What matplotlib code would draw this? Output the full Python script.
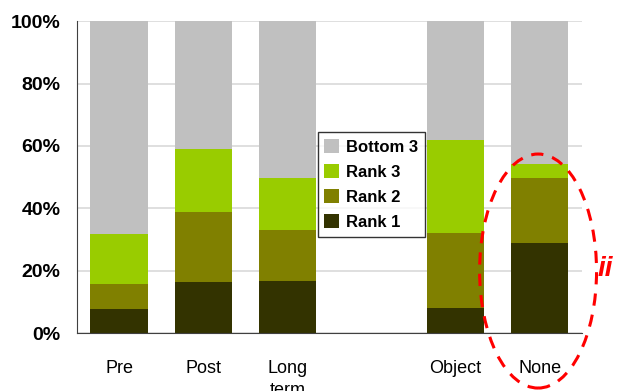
import matplotlib.pyplot as plt
from matplotlib.patches import Ellipse

plt.rcParams['font.family'] = ['Liberation Sans', 'DejaVu Sans']

categories = ["Pre", "Post", "Long\nterm", "", "Object", "None"]
rank1 = [7.8, 16.4, 16.8, 0, 8.2, 28.9]
rank2 = [8.0, 22.4, 16.3, 0, 23.9, 20.8]
rank3 = [16.0, 20.2, 16.6, 0, 29.8, 4.5]
bottom3 = [68.2, 41.0, 50.3, 0, 38.1, 45.8]

series = [("Rank 1", rank1, "#333300"),
          ("Rank 2", rank2, "#808000"),
          ("Rank 3", rank3, "#99CC00"),
          ("Bottom 3", bottom3, "#C0C0C0")]

fig = plt.figure(figsize=(6.17, 3.91), dpi=100)
ax = fig.add_axes([0.1248, 0.148, 0.8182, 0.798])

x = list(range(len(categories)))
base = [0] * len(categories)
handles = []
for name, vals, col in series:
    b = ax.bar(x, vals, width=0.68, bottom=base, color=col, label=name, zorder=2)
    handles.append(b)
    base = [p + v for p, v in zip(base, vals)]

ax.set_xlim(-0.5, 5.5)
ax.set_ylim(0, 100)
ax.set_yticks(range(0, 101, 20))
ax.set_yticklabels([f"{v}%" for v in range(0, 101, 20)], fontsize=14, fontweight="bold")
ax.set_xticks(x)
ax.set_xticklabels(categories, fontsize=13, linespacing=1.4)
ax.tick_params(axis="y", length=0, pad=12)
ax.tick_params(axis="x", length=0, pad=19)
ax.grid(axis="y", color="#D9D9D9", linewidth=1.2, zorder=0)
ax.set_axisbelow(True)
for s in ["top", "right"]:
    ax.spines[s].set_visible(False)
ax.spines["left"].set_color("#404040")
ax.spines["bottom"].set_color("#404040")

leg = ax.legend(handles[::-1], [s[0] for s in series][::-1], loc="upper left",
                bbox_to_anchor=(0.477, 0.644), frameon=True, fancybox=False,
                prop={"weight": "bold", "size": 12}, handlelength=0.9,
                handleheight=0.9, handletextpad=0.4, labelspacing=0.57,
                borderpad=0.4, borderaxespad=0)
leg.get_frame().set_edgecolor("black")
leg.get_frame().set_linewidth(1.0)

# dashed highlight around the last bar
ell = Ellipse((4.98, 19.9), 1.39, 75, fill=False, edgecolor="#FF0000",
              linestyle=(0, (4, 3)), linewidth=2.2, clip_on=False, zorder=5)
ax.add_patch(ell)
ax.text(5.87, 20.6, "ii", color="#FF0000", fontsize=20, fontweight="bold",
        fontstyle="italic", va="center", ha="right", clip_on=False)

plt.savefig("out.png", dpi=100)
